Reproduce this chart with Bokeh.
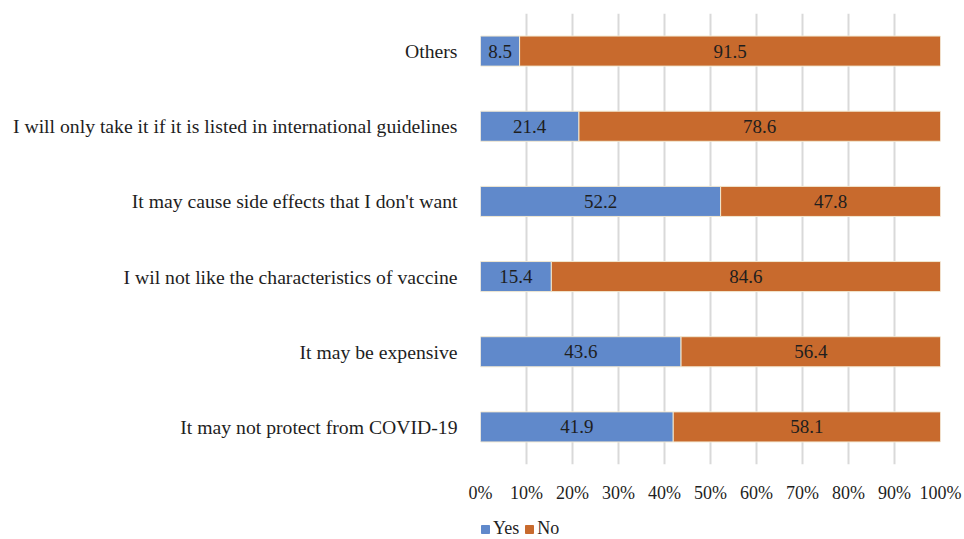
from bokeh.plotting import figure
from bokeh.layouts import column
from bokeh.models import ColumnDataSource, Range1d, FactorRange, FixedTicker, Legend, LegendItem
from bokeh.core.properties import value
from bokeh.embed import file_html
from bokeh.resources import INLINE

categories = [
    "Others",
    "I will only take it if it is listed in international guidelines",
    "It may cause side effects that I don't want",
    "I wil not like the characteristics of vaccine",
    "It may be expensive",
    "It may not protect from COVID-19",
]
yes = [8.5, 21.4, 52.2, 15.4, 43.6, 41.9]
no = [91.5, 78.6, 47.8, 84.6, 56.4, 58.1]
series = ["Yes", "No"]
ticks = [0, 10, 20, 30, 40, 50, 60, 70, 80, 90, 100]
tick_labels = [f"{t}%" for t in ticks]

BLUE = "#6089CB"
ORANGE = "#C86A2D"
FONT = "Liberation Serif"
TXT = "#1E1E1E"

src = ColumnDataSource(dict(
    cat=categories, yes=yes, no=no,
    yes_mid=[y / 2 for y in yes],
    no_mid=[y + n / 2 for y, n in zip(yes, no)],
    yes_lab=[f"{v:.1f}" for v in yes],
    no_lab=[f"{v:.1f}" for v in no],
))

p = figure(width=964, height=513, output_backend="svg", toolbar_location=None,
           y_range=FactorRange(*list(reversed(categories)), range_padding=0),
           x_range=Range1d(0, 100),
           min_border_left=480, min_border_right=24, min_border_top=13, min_border_bottom=49)
p.outline_line_color = None
p.background_fill_color = "white"
p.border_fill_color = "white"

r = p.hbar_stack(["yes", "no"], y="cat", height=0.4, color=[BLUE, ORANGE],
                 line_color="#F2E8D0", line_width=1, source=src)

p.text(x="yes_mid", y="cat", text="yes_lab", source=src, text_align="center",
       text_baseline="middle", text_font=value(FONT), text_font_size="19px",
       text_color=TXT)
p.text(x="no_mid", y="cat", text="no_lab", source=src, text_align="center",
       text_baseline="middle", text_font=value(FONT), text_font_size="19px",
       text_color=TXT)

p.xaxis.ticker = FixedTicker(ticks=ticks)
p.xaxis.major_label_overrides = {t: l for t, l in zip(ticks, tick_labels)}
for ax in (p.xaxis[0], p.yaxis[0]):
    ax.axis_line_color = None
    ax.major_tick_line_color = None
    ax.minor_tick_line_color = None
    ax.major_label_text_font = FONT
    ax.major_label_text_color = TXT
p.xaxis.major_label_text_font_size = "18px"
p.yaxis.major_label_text_font_size = "19.7px"
p.xaxis.major_label_standoff = 12
p.yaxis.major_label_standoff = 17

p.xgrid.grid_line_color = "#D9D9D9"
p.xgrid.grid_line_width = 2
p.ygrid.grid_line_color = None

# legend strip below the chart (swatch renderers sit outside the strip's visible range)
p2 = figure(width=964, height=26, output_backend="svg", toolbar_location=None,
            x_range=Range1d(0, 1), y_range=Range1d(0, 1),
            min_border_left=449, min_border_right=0, min_border_top=0, min_border_bottom=0)
p2.axis.visible = False
p2.grid.visible = False
p2.outline_line_color = None
p2.border_fill_color = "white"
p2.background_fill_color = "white"
lr = [p2.rect(x=[-5], y=[-5], width=1, height=1, color=c) for c in (BLUE, ORANGE)]
legend = Legend(items=[LegendItem(label=s, renderers=[g]) for s, g in zip(series, lr)],
                orientation="horizontal", location="bottom_left",
                label_text_font=FONT, label_text_font_size="18px",
                label_text_color=TXT,
                glyph_width=10, glyph_height=10, spacing=5, label_standoff=3,
                padding=0, margin=0, border_line_color=None,
                background_fill_alpha=0)
p2.add_layout(legend)

open("out.html", "w").write(file_html(column(p, p2, spacing=0), INLINE))
